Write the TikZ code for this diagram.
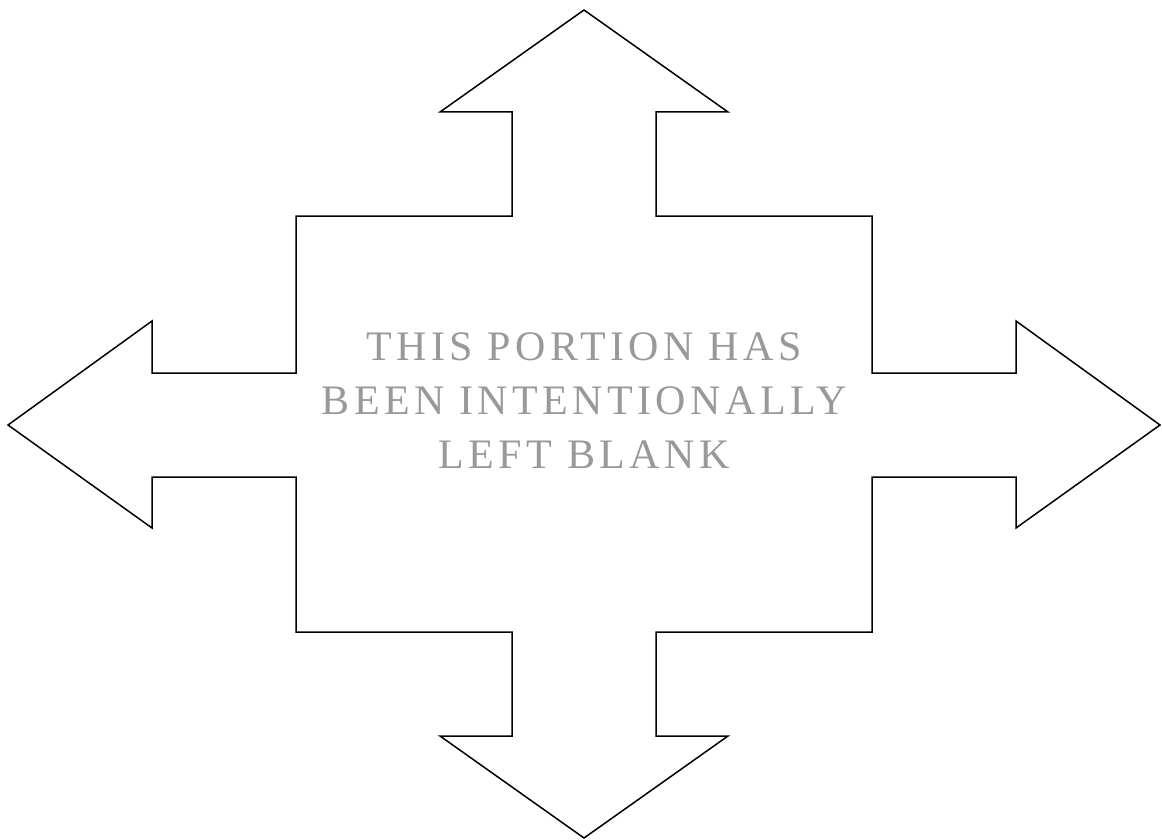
\documentclass[tikz,border=0pt]{standalone}
\usepackage{fontspec}
\usepackage{pdfrender}
\setmainfont{Liberation Serif}
\newfontfamily\engraved[LetterSpace=10.5]{Liberation Serif}
\usetikzlibrary{positioning}
\definecolor{ink}{HTML}{000000}
\definecolor{blankgray}{HTML}{999999}
\newcommand\engrave[1]{\textpdfrender{TextRenderingMode=Stroke,
  LineWidth=.5,StrokeColor=blankgray}{#1}}
\tikzset{
  outline/.style={draw=ink, line width=.75pt, line join=miter},
  blanknote/.style={align=center, text=blankgray,
    font=\engraved\fontsize{21}{27}\selectfont}
}

\begin{document}
\begin{tikzpicture}[x=.5pt,y=-.5pt]
\useasboundingbox (0,0) rectangle (1162,840);

% ---------------------------------------------------------------------------
% Four-way arrow outline (one closed path, clockwise from the top tip).
% ---------------------------------------------------------------------------
\draw[outline] (584,10) -- (728,112) -- (656,112) -- (656,216)
  -- (872,216) -- (872,373) -- (1016,373) -- (1016,321)
  -- (1160,425) -- (1016,528) -- (1016,477) -- (872,477)
  -- (872,632) -- (656,632) -- (656,736) -- (728,736)
  -- (584,838) -- (440,736) -- (512,736) -- (512,632)
  -- (296,632) -- (296,477) -- (152,477) -- (152,528)
  -- (8,425) -- (152,321) -- (152,373) -- (296,373)
  -- (296,216) -- (512,216) -- (512,112) -- (440,112) -- cycle;

% ---------------------------------------------------------------------------
% Placeholder notice in the middle.
% ---------------------------------------------------------------------------
\node[blanknote] (blank) at (584,401)
  {\engrave{THIS PORTION HAS}\\
   \engrave{BEEN INTENTIONALLY}\\
   \engrave{LEFT BLANK}};

\end{tikzpicture}
\end{document}
